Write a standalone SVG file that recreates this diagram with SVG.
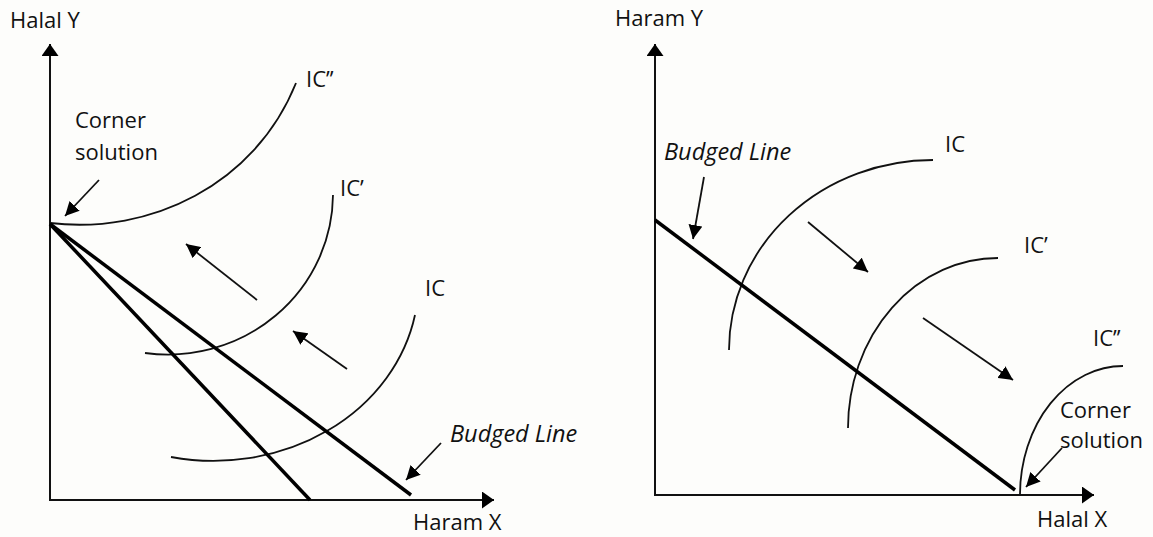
<svg xmlns="http://www.w3.org/2000/svg" width="1153" height="537" viewBox="0 0 1153 537">
<style>
text{font-family:"Open Sans","Noto Sans","DejaVu Sans",sans-serif;font-size:22px;fill:#111}
.it{font-style:italic;font-size:23.5px}
.axis{stroke:#111;stroke-width:2;fill:none}
.bud{stroke:#000;stroke-width:3.5;fill:none;stroke-linecap:butt}
.ic{stroke:#111;stroke-width:1.8;fill:none}
.arr{stroke:#111;stroke-width:1.8;fill:none}
</style>
<defs>
<marker id="ah" markerUnits="userSpaceOnUse" markerWidth="16" markerHeight="14" refX="14" refY="7" orient="auto">
<path d="M0,0 L14,7 L0,14 Z" fill="#000"/>
</marker>
<marker id="axh" markerUnits="userSpaceOnUse" markerWidth="14" markerHeight="18" refX="12" refY="8.5" orient="auto">
<path d="M0,0 L12,8.5 L0,17 Z" fill="#000"/>
</marker>
</defs>
<rect width="1153" height="537" fill="#fdfdfb"/>

<g id="left-chart">
<g id="left-axes">
<path class="axis" d="M50,500 L50,44" marker-end="url(#axh)"/>
<path class="axis" d="M49,500 L494,500" marker-end="url(#axh)"/>
<text x="10" y="28">Halal Y</text>
<text x="413" y="530">Haram X</text>
</g>
<g id="left-ic2"><path class="ic" d="M50,223 C150,235 255,185 296,83"/><text x="306" y="87">IC’’</text></g>
<g id="left-ic1"><path class="ic" d="M145,353 A165 161 0 0 0 333,195"/><text x="340" y="196">IC’</text></g>
<g id="left-ic"><path class="ic" d="M171,457 A205 179 0 0 0 415,315"/><text x="425" y="296">IC</text></g>
<g id="left-budget">
<path class="bud" d="M50,224 L310,500"/>
<path class="bud" d="M50,224 L411,495"/>
</g>
<g id="left-labels">
<text x="75" y="128">Corner</text>
<text x="75" y="160">solution</text>
<text class="it" x="450" y="442">Budged Line</text>
</g>
</g>

<g id="right-chart">
<g id="right-axes">
<path class="axis" d="M655,496 L655,44" marker-end="url(#axh)"/>
<path class="axis" d="M654,495 L1094,495" marker-end="url(#axh)"/>
<text x="615" y="26">Haram Y</text>
<text x="1037" y="527">Halal X</text>
</g>
<g id="right-ic"><path class="ic" d="M729,350 A204 190 0 0 1 933,160"/><text x="945" y="152">IC</text></g>
<g id="right-ic1"><path class="ic" d="M848,428 A150 170 0 0 1 998,258"/><text x="1024" y="253">IC’</text></g>
<g id="right-ic2"><path class="ic" d="M1020,494 A103 129 0 0 1 1123,366"/><text x="1093" y="346">IC’’</text></g>
<g id="right-budget"><path class="bud" d="M655,220 L1015,490"/></g>
<g id="right-labels">
<text class="it" x="664" y="160">Budged Line</text>
<text x="1060" y="418">Corner</text>
<text x="1060" y="448">solution</text>
</g>
</g>

<g id="connectors">
<path class="arr" d="M99,180 L65,216" marker-end="url(#ah)"/>
<path class="arr" d="M257,300 L186,244" marker-end="url(#ah)"/>
<path class="arr" d="M347,369 L293,331" marker-end="url(#ah)"/>
<path class="arr" d="M441,443 L406,480" marker-end="url(#ah)"/>
<path class="arr" d="M704,177 L693,239" marker-end="url(#ah)"/>
<path class="arr" d="M808,222 L868,272" marker-end="url(#ah)"/>
<path class="arr" d="M923,318 L1013,380" marker-end="url(#ah)"/>
<path class="arr" d="M1062,448 L1026,487" marker-end="url(#ah)"/>
</g>
</svg>
